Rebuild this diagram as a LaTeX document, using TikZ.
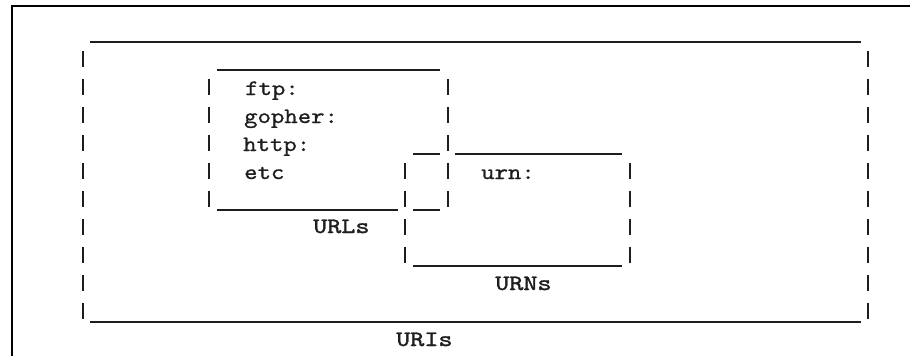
\documentclass[tikz,border=0pt]{standalone}
\usepackage{fontspec}
% slab-serif typewriter faces, widened to the cell width of the drawing
\newfontfamily\cellfont{lmmono10-regular}[Extension=.otf,FakeStretch=1.16,FakeBold=0.8]
\newfontfamily\capfont{lmmono10-regular}[Extension=.otf,FakeStretch=1.22,FakeBold=1.6]
\definecolor{ink}{HTML}{1E1E1E}
% one "|" of the character-cell drawing: column x, rows a..b
\newcommand\cellbars[3]{%
  \foreach \r in {#2,...,#3}{\draw[cellbar] (#1,23+28*\r) -- (#1,39+28*\r);}}
\begin{document}
\begin{tikzpicture}[x=1pt,y=-1pt,
  rule/.style={line width=2pt,color=ink},
  cellbar/.style={line width=2pt,color=ink},
  frame/.style={line width=1.8pt,color=black},
  entry/.style={font=\cellfont\fontsize{22}{22}\selectfont,anchor=base west,inner sep=0pt,text=ink},
  caption/.style={font=\capfont\fontsize{22}{22}\selectfont,anchor=base west,inner sep=0pt,text=ink}]
\useasboundingbox[fill=white] (0,0) rectangle (910,356);

% window frame
\draw[frame] (12,356) -- (12,6) -- (910,6);

% URIs: outer box
\draw[rule] (90,42) -- (861,42);
\draw[rule] (90,322) -- (861,322);
\cellbars{83}{1}{10}
\cellbars{868}{1}{10}

% URLs box
\draw[rule] (217,70) -- (440,70);
\draw[rule] (217,210) -- (398,210);
\draw[rule] (413,210) -- (440,210);
\cellbars{209}{2}{6}
\cellbars{447.5}{2}{6}

% URNs box
\draw[rule] (413,154) -- (440,154);
\draw[rule] (455,154) -- (622,154);
\draw[rule] (413,266) -- (622,266);
\cellbars{405}{5}{8}
\cellbars{629.5}{5}{8}

% contents
\node[entry] (ftp) at (245,95) {ftp:};
\node[entry] (gopher) at (244,123) {gopher:};
\node[entry] (http) at (243,151) {http:};
\node[entry] (etc) at (244,179) {etc};
\node[entry] (urn) at (481,179) {urn:};

% labels
\node[caption] (urls) at (313,233) {URLs};
\node[caption] (urns) at (495,290) {URNs};
\node[caption] (uris) at (396,346) {URIs};
\end{tikzpicture}
\end{document}
